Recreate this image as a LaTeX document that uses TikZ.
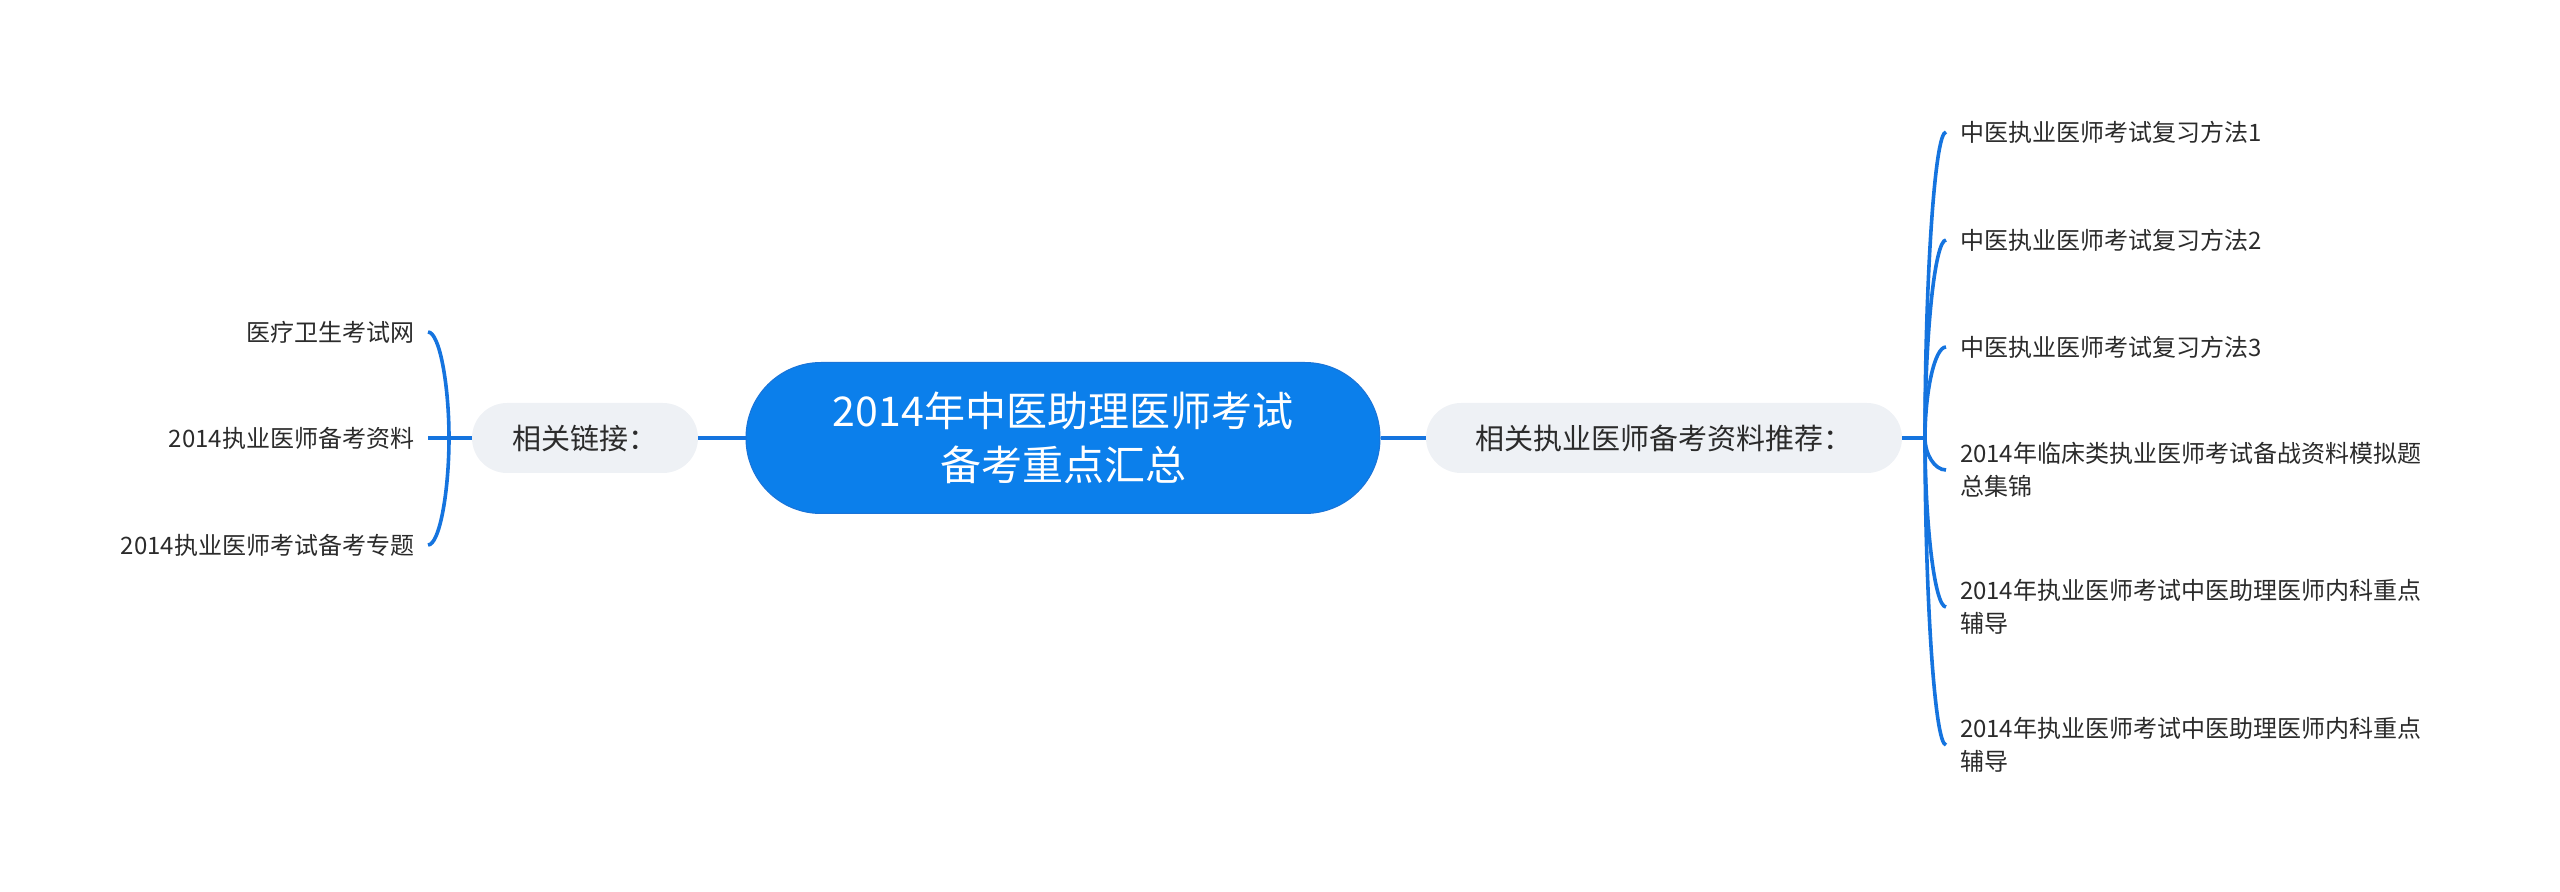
\documentclass[tikz,border=0pt]{standalone}
\usepackage{fontspec}
\usetikzlibrary{calc}
\setmainfont{Noto Sans CJK SC}
\definecolor{mainblue}{HTML}{0B7FEB}
\definecolor{mainborder}{HTML}{1A74D8}
\definecolor{linkblue}{HTML}{1574DF}
\definecolor{subgray}{HTML}{EEF1F5}
\definecolor{txt}{HTML}{2B2B2B}
\tikzset{
  rootnode/.style={fill=mainblue, draw=mainborder, line width=0.5pt, rounded corners=37.5pt,
    minimum width=317pt, minimum height=75.5pt, inner sep=0pt, text=white, align=center,
    font=\fontsize{20.5}{27}\selectfont},
  subnode/.style={fill=subgray, rounded corners=17.5pt, minimum height=35pt, inner sep=0pt,
    text=txt, font=\fontsize{14.5}{18}\selectfont},
  leafL/.style={anchor=east, inner xsep=0pt, inner ysep=2pt, outer xsep=7pt, text=txt,
    font=\fontsize{12}{16.5}\selectfont, align=right},
  leafR/.style={anchor=west, inner xsep=0pt, inner ysep=2pt, outer xsep=7pt, text=txt,
    font=\fontsize{12}{16.5}\selectfont, align=left},
  conn/.style={draw=linkblue, line width=1.8pt}
}
\begin{document}
\begin{tikzpicture}[x=0.5pt,y=-0.5pt]
\useasboundingbox (0,0) rectangle (2560,892);
\node[rootnode] (root) at (1063,438) {2014年中医助理医师考试\\备考重点汇总};
\node[subnode, minimum width=113pt] (left) at (585,438) {相关链接：};
\node[subnode, minimum width=238pt] (right) at (1664,438) {相关执业医师备考资料推荐：};
\draw[conn] (root.west) -- (left.east);
\draw[conn] (root.east) -- (right.west);
% left children
\node[leafL] (l1) at (428,332) {医疗卫生考试网};
\node[leafL] (l2) at (428,438) {2014执业医师备考资料};
\node[leafL] (l3) at (428,545) {2014执业医师考试备考专题};
\coordinate (JL) at (449,438);
\draw[conn] (left.west) -- (JL);
\foreach \c in {l1,l3}{
  \draw[conn] (JL) .. controls ($(JL)!0.5!(JL |- \c.east)$) and ($(JL |- \c.east)!0.45!(\c.east)$) .. (\c.east);
}
\draw[conn] (JL) -- (l2.east);
% right children
\node[leafR] (r1) at (1946,132) {中医执业医师考试复习方法1};
\node[leafR] (r2) at (1946,240) {中医执业医师考试复习方法2};
\node[leafR] (r3) at (1946,347) {中医执业医师考试复习方法3};
\node[leafR] (r4) at (1946,470) {2014年临床类执业医师考试备战资料模拟题\\总集锦};
\node[leafR] (r5) at (1946,607) {2014年执业医师考试中医助理医师内科重点\\辅导};
\node[leafR] (r6) at (1946,745) {2014年执业医师考试中医助理医师内科重点\\辅导};
\coordinate (JR) at (1925,438);
\draw[conn] (right.east) -- (JR);
\foreach \c in {r1,r2,r3,r4,r5,r6}{
  \draw[conn] (JR) .. controls ($(JR)!0.5!(JR |- \c.west)$) and ($(JR |- \c.west)!0.45!(\c.west)$) .. (\c.west);
}
\end{tikzpicture}
\end{document}
